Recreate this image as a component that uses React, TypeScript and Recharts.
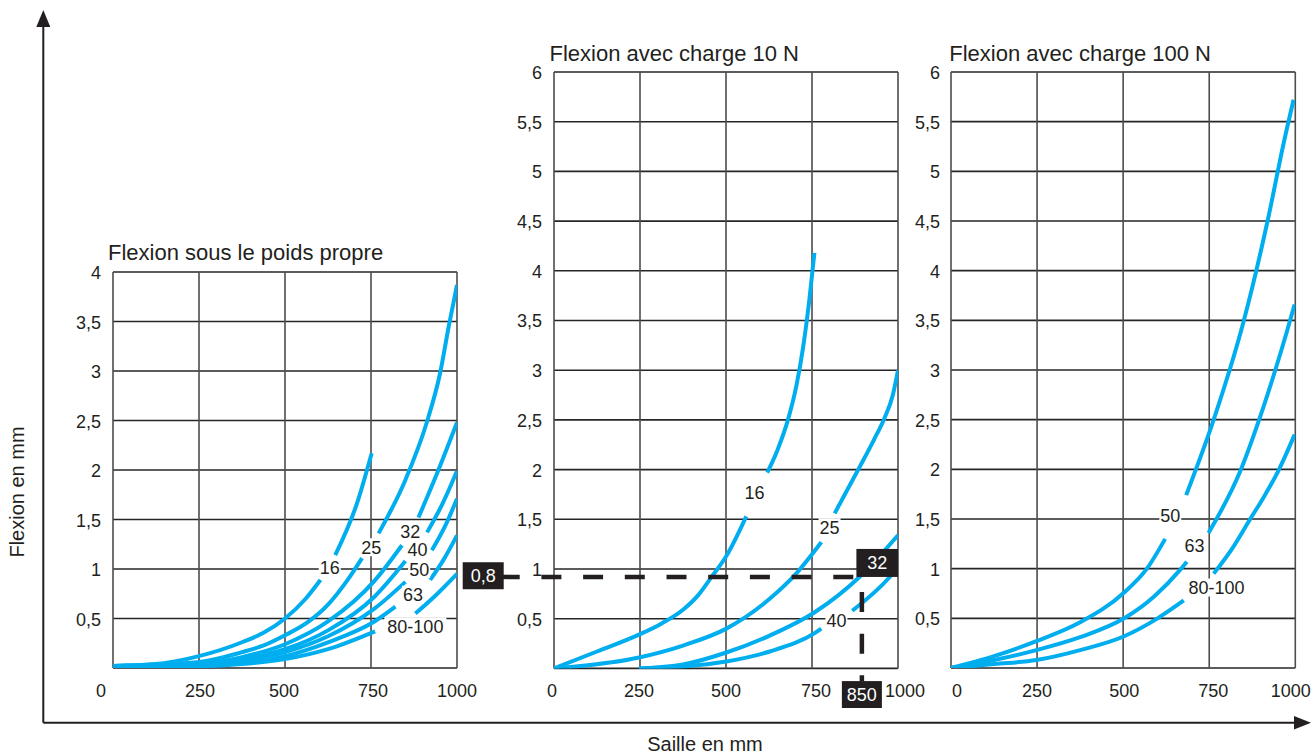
import React from 'react';
import { LineChart, Line, XAxis, YAxis, CartesianGrid, ReferenceDot, ReferenceLine } from 'recharts';

const FONT = '"Liberation Sans", Arial, Helvetica, sans-serif';
const INK = '#231f20';
const BLUE = '#00aeef';

type Seg = number[][];
type Tag = [string, number, number];

// x = saillie (mm), y = flexion (mm)
const xTicks = [0, 250, 500, 750, 1000];
const yTicksOwn = [0, 0.5, 1, 1.5, 2, 2.5, 3, 3.5, 4];
const yTicksLoad = [0, 0.5, 1, 1.5, 2, 2.5, 3, 3.5, 4, 4.5, 5, 5.5, 6];

// Flexion sous le poids propre (each curve is broken where its size label sits)
const own16: Seg[] = [
  [[0, 0.02], [125, 0.04], [250, 0.12], [375, 0.26], [440, 0.36], [500, 0.5], [560, 0.7], [603, 0.89]],
  [[646, 1.14], [709, 1.66], [752, 2.17]],
];
const own25: Seg[] = [
  [[0, 0.02], [250, 0.06], [375, 0.16], [440, 0.23], [500, 0.33], [565, 0.46], [625, 0.64], [680, 0.88], [724, 1.11]],
  [[772, 1.36], [850, 1.9], [913, 2.49], [951, 2.98], [976, 3.45], [1000, 3.87]],
];
const own32: Seg[] = [
  [[0, 0.02], [250, 0.04], [375, 0.11], [500, 0.24], [625, 0.47], [760, 0.88], [840, 1.24]],
  [[888, 1.52], [946, 2.0], [1000, 2.48]],
];
const own40: Seg[] = [
  [[0, 0.02], [250, 0.03], [375, 0.09], [500, 0.19], [625, 0.38], [760, 0.72], [850, 1.08]],
  [[913, 1.37], [958, 1.66], [1000, 1.99]],
];
const own50: Seg[] = [
  [[0, 0.02], [250, 0.03], [375, 0.07], [500, 0.16], [625, 0.32], [760, 0.6], [850, 0.87]],
  [[927, 1.19], [965, 1.43], [1000, 1.71]],
];
const own63: Seg[] = [
  [[0, 0.02], [250, 0.02], [375, 0.05], [500, 0.12], [625, 0.26], [760, 0.47], [821, 0.62]],
  [[922, 0.89], [962, 1.1], [1000, 1.34]],
];
const own80: Seg[] = [
  [[0, 0.02], [250, 0.02], [375, 0.04], [500, 0.09], [625, 0.19], [762, 0.37]],
  [[879, 0.55], [940, 0.74], [1000, 0.95]],
];
const ownTags: Tag[] = [
  ['16', 630, 1.02], ['25', 751, 1.22], ['32', 864, 1.38], ['40', 885, 1.2],
  ['50', 890, 1.0], ['63', 872, 0.74], ['80-100', 879, 0.42],
];

// Flexion avec charge 10 N
const n10_16: Seg[] = [
  [[0, 0], [125, 0.17], [247, 0.34], [312, 0.45], [375, 0.59], [420, 0.74], [458, 0.92], [501, 1.13], [559, 1.53]],
  [[620, 1.97], [650, 2.2], [680, 2.5], [705, 2.85], [725, 3.25], [742, 3.7], [757, 4.18]],
];
const n10_25: Seg[] = [
  [[0, 0], [247, 0.11], [375, 0.23], [501, 0.4], [627, 0.7], [695, 0.92], [777, 1.27]],
  [[816, 1.56], [850, 1.78], [889, 2.03], [930, 2.3], [961, 2.52], [985, 2.75], [1000, 3.0]],
];
const n10_32: Seg[] = [
  [[247, 0], [375, 0.04], [501, 0.16], [627, 0.33], [760, 0.57], [888, 0.92], [1000, 1.34]],
];
const n10_40: Seg[] = [
  [[247, 0], [375, 0.02], [501, 0.07], [627, 0.17], [760, 0.36], [777, 0.4]],
  [[867, 0.58], [976, 0.92], [1000, 1.02]],
];
const n10Tags: Tag[] = [['16', 583, 1.77], ['25', 801, 1.42], ['40', 821, 0.48]];
// reading example drawn on the 10 N chart
const readX = 895;
const readY = 0.92;
const readXText = '850';
const readYText = '0,8';
const readSize = '32';

// Flexion avec charge 100 N
const n100_50: Seg[] = [
  [[0, 0], [125, 0.12], [248, 0.27], [375, 0.46], [503, 0.76], [569, 1.0], [622, 1.3]],
  [[683, 1.74], [763, 2.5], [850, 3.49], [922, 4.54], [966, 5.28], [995, 5.72]],
];
const n100_63: Seg[] = [
  [[0, 0], [125, 0.08], [248, 0.18], [375, 0.31], [503, 0.5], [590, 0.72], [666, 0.99], [685, 1.07]],
  [[748, 1.36], [840, 1.98], [900, 2.55], [942, 3.0], [975, 3.38], [998, 3.66]],
];
const n100_80: Seg[] = [
  [[0, 0], [125, 0.04], [248, 0.08], [375, 0.18], [503, 0.32], [600, 0.5], [676, 0.68]],
  [[763, 0.95], [820, 1.22], [869, 1.5], [910, 1.73], [950, 1.98], [998, 2.35]],
];
const n100Tags: Tag[] = [['50', 637, 1.54], ['63', 707, 1.23], ['80-100', 771, 0.81]];

const fmt = (v: number) => String(v).replace('.', ',');

function XTick({ x, y, payload, nudge }: any) {
  const v = payload.value;
  return (
    <text x={x + (nudge[v] ?? 0)} y={y + 29} textAnchor="middle" fontSize={18} fontFamily={FONT} fill={INK}>
      {v}
    </text>
  );
}

function YTick({ x, y, payload, gap }: any) {
  if (payload.value === 0) return <g />;
  return (
    <text x={x - gap} y={y + 7} textAnchor="end" fontSize={18} fontFamily={FONT} fill={INK}>
      {fmt(payload.value)}
    </text>
  );
}

function SizeTag({ cx, cy, text }: any) {
  const w = text.length * 10 + 2;
  return (
    <g>
      <rect x={cx - w / 2} y={cy - 9} width={w} height={18} fill="#fff" />
      <text x={cx} y={cy + 6.5} textAnchor="middle" fontSize={18} fontFamily={FONT} fill={INK}>
        {text}
      </text>
    </g>
  );
}

function HReadout({ viewBox }: any) {
  const { x, y, width } = viewBox;
  const right = x + width;
  return (
    <g>
      <line x1={x - 54.3} y1={y} x2={right - 41} y2={y} stroke={INK} strokeWidth={4.5} strokeDasharray="20 21.7" />
      <rect x={x - 91.3} y={y - 14.7} width={41} height={27} fill={INK} />
      <text x={x - 70.8} y={y + 5.5} textAnchor="middle" fontSize={18} fontFamily={FONT} fill="#fff">
        {readYText}
      </text>
      <rect x={right - 41.6} y={y - 28} width={41.6} height={28} fill={INK} />
      <text x={right - 20.8} y={y - 7.5} textAnchor="middle" fontSize={18} fontFamily={FONT} fill="#fff">
        {readSize}
      </text>
    </g>
  );
}

function VReadout({ viewBox }: any) {
  const { x, y, height } = viewBox;
  const bottom = y + height;
  return (
    <g>
      <line x1={x} y1={bottom - 76.3} x2={x} y2={bottom + 13} stroke={INK} strokeWidth={4.5} strokeDasharray="20 21.6" />
      <rect x={x - 20} y={bottom + 12.7} width={40} height={27.6} fill={INK} />
      <text x={x} y={bottom + 33} textAnchor="middle" fontSize={18} fontFamily={FONT} fill="#fff">
        {readXText}
      </text>
    </g>
  );
}

function Panel({ left, top, plotW, plotH, axisW, mRight, yMax, yTicks, curves, tags, xNudge, yGap, children }: any) {
  const mTop = 10;
  const xH = 40;
  return (
    <div style={{ position: 'absolute', left: left - axisW, top: top - mTop }}>
      <LineChart
        width={axisW + plotW + mRight}
        height={mTop + plotH + xH}
        margin={{ top: mTop, right: mRight, bottom: 0, left: 0 }}
      >
        <CartesianGrid vertical={false} stroke="#262626" strokeWidth={1.6} />
        <CartesianGrid horizontal={false} stroke="#4d4d4d" strokeWidth={1.6} />
        <XAxis
          type="number"
          dataKey="x"
          domain={[0, 1000]}
          ticks={xTicks}
          interval={0}
          height={xH}
          axisLine={false}
          tickLine={false}
          tickSize={0}
          tickMargin={0}
          allowDataOverflow
          tick={<XTick nudge={xNudge} />}
        />
        <YAxis
          type="number"
          domain={[0, yMax]}
          ticks={yTicks}
          interval={0}
          width={axisW}
          axisLine={false}
          tickLine={false}
          tickSize={0}
          tickMargin={0}
          allowDataOverflow
          tick={<YTick gap={yGap} />}
        />
        {curves.flatMap((segs: Seg[], ci: number) =>
          segs.map((seg, si) => (
            <Line
              key={`c${ci}-${si}`}
              data={seg.map(([x, y]) => ({ x, y }))}
              dataKey="y"
              type="monotone"
              stroke={BLUE}
              strokeWidth={4}
              dot={false}
              activeDot={false}
              isAnimationActive={false}
            />
          ))
        )}
        {tags.map(([t, x, y]: Tag) => (
          <ReferenceDot key={t} x={x} y={y} r={0} shape={(p: any) => <SizeTag cx={p.cx} cy={p.cy} text={t} />} />
        ))}
        {children}
      </LineChart>
    </div>
  );
}

export default function App() {
  return (
    <div style={{ position: 'absolute', left: 0, top: 0, width: 1313, height: 755, background: '#fff', fontFamily: FONT }}>
      <svg width={1313} height={755} style={{ position: 'absolute', left: 0, top: 0 }}>
        <line x1={43.3} y1={722.7} x2={43.3} y2={26} stroke={INK} strokeWidth={2} />
        <polygon points="43.3,10 36.3,27 50.3,27" fill={INK} />
        <line x1={43.3} y1={722.7} x2={1296} y2={722.7} stroke={INK} strokeWidth={2} />
        <polygon points="1311,722.7 1294,716 1294,729.4" fill={INK} />
        <text x={0} y={0} transform="translate(24,492) rotate(-90)" textAnchor="middle" fontSize={20} fill={INK}>
          Flexion en mm
        </text>
        <text x={705} y={751} textAnchor="middle" fontSize={20} fill={INK}>
          Saille en mm
        </text>
        <text x={108} y={260} fontSize={22} fill={INK}>Flexion sous le poids propre</text>
        <text x={549.5} y={60.5} fontSize={22} fill={INK}>Flexion avec charge 10 N</text>
        <text x={949.3} y={60.5} fontSize={22} fill={INK}>Flexion avec charge 100 N</text>
      </svg>

      <Panel
        left={112.7}
        top={272}
        plotW={344}
        plotH={396}
        axisW={60}
        mRight={30}
        yMax={4}
        yTicks={yTicksOwn}
        curves={[own16, own25, own32, own40, own50, own63, own80]}
        tags={ownTags}
        xNudge={{ 0: -12, 250: 1, 500: -1, 750: 2, 1000: 0 }}
        yGap={12}
      />
      <Panel
        left={554.3}
        top={71.6}
        plotW={344}
        plotH={596.4}
        axisW={100}
        mRight={40}
        yMax={6}
        yTicks={yTicksLoad}
        curves={[n10_16, n10_25, n10_32, n10_40]}
        tags={n10Tags}
        xNudge={{ 0: -2, 250: -1, 500: 0, 750: 4, 1000: 7 }}
        yGap={12}
      >
        <ReferenceLine y={readY} stroke="none" label={(p: any) => <HReadout viewBox={p.viewBox} />} />
        <ReferenceLine x={readX} stroke="none" label={(p: any) => <VReadout viewBox={p.viewBox} />} />
      </Panel>
      <Panel
        left={950.7}
        top={72}
        plotW={344.3}
        plotH={596}
        axisW={60}
        mRight={18}
        yMax={6}
        yTicks={yTicksLoad}
        curves={[n100_50, n100_63, n100_80]}
        tags={n100Tags}
        xNudge={{ 0: 6, 250: 0, 500: 1, 750: 4, 1000: -4.5 }}
        yGap={11}
      />
    </div>
  );
}
